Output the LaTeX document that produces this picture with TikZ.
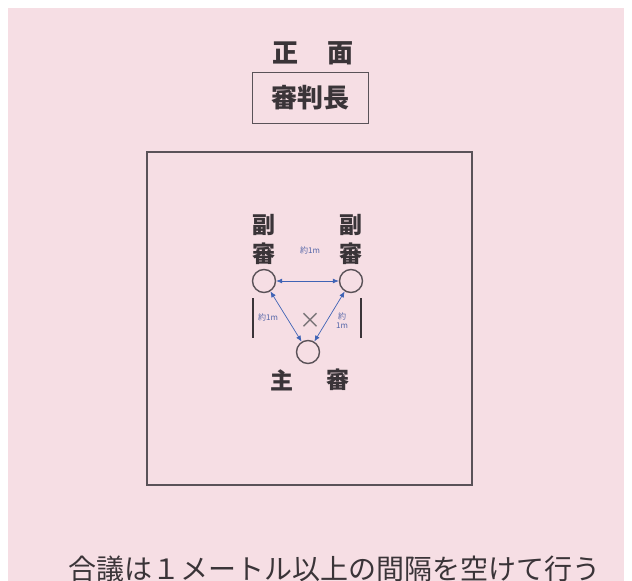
\documentclass[tikz,border=0pt]{standalone}
\usepackage{fontspec}
\setmainfont{Liberation Serif}
\newfontfamily\jp{Noto Sans CJK JP}
\usetikzlibrary{arrows.meta}
\definecolor{bgpink}{HTML}{F6DEE4}
\definecolor{ink}{HTML}{3A3438}
\definecolor{frame}{HTML}{5A5258}
\definecolor{arrblue}{HTML}{3F63B5}
\definecolor{lblblue}{HTML}{5566A8}
\tikzset{
  jtext/.style={inner sep=0pt, text=ink, font=\jp\bfseries\fontsize{#1}{#1}\selectfont},
  jthin/.style={inner sep=0pt, text=ink, font=\jp\fontsize{#1}{#1}\selectfont},
  smalllbl/.style={inner sep=0pt, text=lblblue, font=\jp\fontsize{8}{9}\selectfont, align=center},
  refpos/.style={draw=frame, line width=1.4pt, circle, minimum size=23pt, inner sep=0pt},
  refbar/.style={draw=ink, line width=2.6pt},
  meas/.style={draw=arrblue, line width=0.7pt, {Latex[length=6pt,width=5pt]}-{Latex[length=6pt,width=5pt]}},
}
\begin{document}
\begin{tikzpicture}[x=1pt,y=-1pt]
\useasboundingbox (0,0) rectangle (632,581);
\clip (0,0) rectangle (632,581);
\fill[bgpink] (8,8) rectangle (624,581);
% title
\node[jtext=26] (sho) at (285,53) {正};
\node[jtext=26] (men) at (340,53) {面};
\node[jtext=26, draw=frame, line width=1pt, minimum width=116pt, minimum height=51pt] (chief) at (310,98) {審判長};
% court
\node[draw=frame, line width=1.3pt, minimum width=325pt, minimum height=333pt, inner sep=0pt] (court) at (309.5,318.5) {};
% assistant referees
\node[jtext=23] (fuku1) at (264,225) {副};
\node[jtext=23] (shin1) at (264,254) {審};
\node[jtext=23] (fuku2) at (351,225) {副};
\node[jtext=23] (shin2) at (351,254) {審};
\node[refpos] (pL) at (264,281) {};
\node[refpos] (pR) at (351,281) {};
\node[refpos] (pM) at (308,352) {};
\coordinate (bL1) at (253,298); \coordinate (bL2) at (253,338);
\coordinate (bR1) at (361,298); \coordinate (bR2) at (361,338);
\draw[refbar] (bL1) -- (bL2);
\draw[refbar] (bR1) -- (bR2);
\node[inner sep=0pt, text=ink!70, font=\jp\fontsize{22}{22}\selectfont] (x) at (310,321) {×};
% main referee label
\node[jtext=23] (shu) at (282,380) {主};
\node[jtext=23] (shin3) at (338,380) {審};
% distance arrows
\draw[meas] (pL) -- (pR);
\draw[meas] (pL) -- (pM);
\draw[meas] (pR) -- (pM);
\node[smalllbl] (dTop) at (310,250) {約1m};
\node[smalllbl] (dL) at (268,317) {約1m};
\node[smalllbl] (dR) at (342,321) {約\\1m};
% bottom text
\node[jthin=28, anchor=base] (note) at (334,579) {合議は１メートル以上の間隔を空けて行う};
\end{tikzpicture}
\end{document}
